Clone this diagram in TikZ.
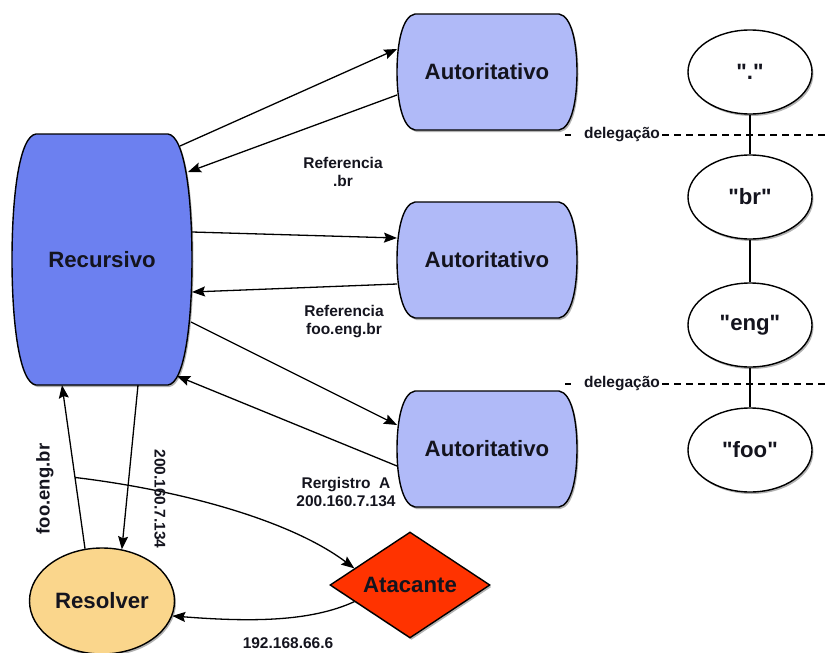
\documentclass[tikz,border=0pt]{standalone}
\usepackage{fontspec}
\setmainfont{Liberation Sans}[Ligatures=TeXOff]
\usetikzlibrary{arrows.meta,shapes.geometric,shadows,calc}
\definecolor{recblue}{RGB}{108,128,240}
\definecolor{autblue}{RGB}{176,186,248}
\definecolor{resorange}{RGB}{250,214,140}
\definecolor{atkred}{RGB}{255,51,0}
\definecolor{txt}{RGB}{20,20,30}
% x0 y0 x1 y1 inset style
\newcommand{\barrelshape}[6]{%
  \draw[#6] ({#1+#5},#2) -- ({#3-#5},#2)
    .. controls ({#3-0.3*#5},{#2+2}) and (#3,{#2+0.25*(#4-#2)}) .. (#3,{0.5*(#2+#4)})
    .. controls (#3,{#4-0.25*(#4-#2)}) and ({#3-0.3*#5},{#4-2}) .. ({#3-#5},#4)
    -- ({#1+#5},#4)
    .. controls ({#1+0.3*#5},{#4-2}) and (#1,{#4-0.25*(#4-#2)}) .. (#1,{0.5*(#2+#4)})
    .. controls (#1,{#2+0.25*(#4-#2)}) and ({#1+0.3*#5},{#2+2}) .. ({#1+#5},#2) -- cycle;}
\begin{document}
\begin{tikzpicture}[x=1pt,y=-1pt,
  myshadow/.style={drop shadow={shadow xshift=1.5pt,shadow yshift=-2pt,opacity=0.3,fill=black}},
  big/.style={font=\bfseries\fontsize{22.2}{26}\selectfont,text=txt},
  small/.style={font=\bfseries\fontsize{15.5}{18}\selectfont,align=center,text=txt,inner sep=1pt},
  textbox/.style={big,draw=none,inner sep=0pt},
  recstyle/.style={draw=black,line width=1.4pt,fill=recblue,myshadow},
  autstyle/.style={draw=black,line width=1.4pt,fill=autblue,myshadow},
  treenode/.style={ellipse,draw=black,line width=1.4pt,fill=white,minimum width=124pt,minimum height=84pt,inner sep=0pt,big,myshadow},
  conn/.style={line width=1.3pt,-{Stealth[length=13pt,width=10pt,inset=2pt]}},
  plainline/.style={line width=1.2pt},
  dashline/.style={line width=1.1pt,dash pattern=on 7pt off 5pt},
  deleg/.style={small,fill=white,inner sep=2pt}
]
\useasboundingbox (0,0) rectangle (830,653);

% delegation lines
\draw[line width=1.1pt] (565,135) -- (571,135);
\node[deleg] (d1) at (622,135) {delegação};
\draw[dashline] (d1.east) -- (830,135);
\draw[line width=1.1pt] (565,384) -- (571,384);
\node[deleg] (d2) at (622,384) {delegação};
\draw[dashline] (d2.east) -- (830,384);

% tree
\node[treenode] (t0) at (750,72) {"."};
\node[treenode] (t1) at (750,197) {"br"};
\node[treenode] (t2) at (750,325) {"eng"};
\node[treenode] (t3) at (750,450) {"foo"};
\draw[plainline] (t0) -- (t1);
\draw[plainline] (t1) -- (t2);
\draw[plainline] (t2) -- (t3);

% shapes
\barrelshape{12}{134}{192}{385}{24}{recstyle}
\barrelshape{397}{14}{577}{130}{18}{autstyle}
\barrelshape{397}{202}{577}{318}{18}{autstyle}
\barrelshape{397}{391}{577}{507}{18}{autstyle}
\node[textbox,minimum width=180pt,minimum height=251pt] (rec) at (102,259.5) {Recursivo};
\node[textbox,minimum width=180pt,minimum height=116pt] (a1) at (487,72) {Autoritativo};
\node[textbox,minimum width=180pt,minimum height=116pt] (a2) at (487,260) {Autoritativo};
\node[textbox,minimum width=180pt,minimum height=116pt] (a3) at (487,449) {Autoritativo};

\node[ellipse,draw=black,line width=1.4pt,fill=resorange,minimum width=145pt,minimum height=106pt,inner sep=0pt,big,myshadow] (res) at (102,601) {Resolver};
\node[diamond,draw=black,line width=1.4pt,fill=atkred,minimum width=160pt,minimum height=106pt,aspect=1.5,inner sep=0pt,big,myshadow] (atk) at (410,585) {Atacante};

% connectors Recursivo <-> Autoritativo
\draw[conn] ($(rec.center)+(78,-113.5)$) -- ($(a1.center)+(-90,-23)$);
\draw[conn] ($(a1.center)+(-90,23)$) -- ($(rec.center)+(86,-87.5)$);
\draw[conn] ($(rec.center)+(90,-27.5)$) -- ($(a2.center)+(-90,-22)$);
\draw[conn] ($(a2.center)+(-90,24)$) -- ($(rec.center)+(90,32.5)$);
\draw[conn] ($(rec.center)+(89,62.5)$) -- ($(a3.center)+(-90,-24)$);
\draw[conn] ($(a3.center)+(-90,17)$) -- ($(rec.center)+(75,116.5)$);

% Resolver <-> Recursivo
\draw[conn] (res.108) -- coordinate[pos=0.436] (br) ($(rec.south)+(-40,0)$);
\draw[conn] ($(rec.south)+(36,0)$) -- (res.69);

% spoof paths
\draw[conn] (br) .. controls (180,490) and (290,520) .. ($(atk.west)!0.31!(atk.north)$);
\draw[conn] ($(atk.west)!0.31!(atk.south)$) .. controls (310,622) and (250,622) .. (res.-12);

% labels
\node[small] (l1) at (343,172) {Referencia\\.br};
\node[small] (l2) at (344,322) {Referencia\\foo.eng.br};
\node[small] (l3) at (346,492) {Rergistro~~A\\200.160.7.134};
\node[small,font=\bfseries\fontsize{18.5}{22}\selectfont,rotate=90] (l4) at (45,489) {foo.eng.br};
\node[small,rotate=-90] (l5) at (160,499) {200.160.7.134};
\node[small] (l6) at (288,643) {192.168.66.6};
\end{tikzpicture}
\end{document}
